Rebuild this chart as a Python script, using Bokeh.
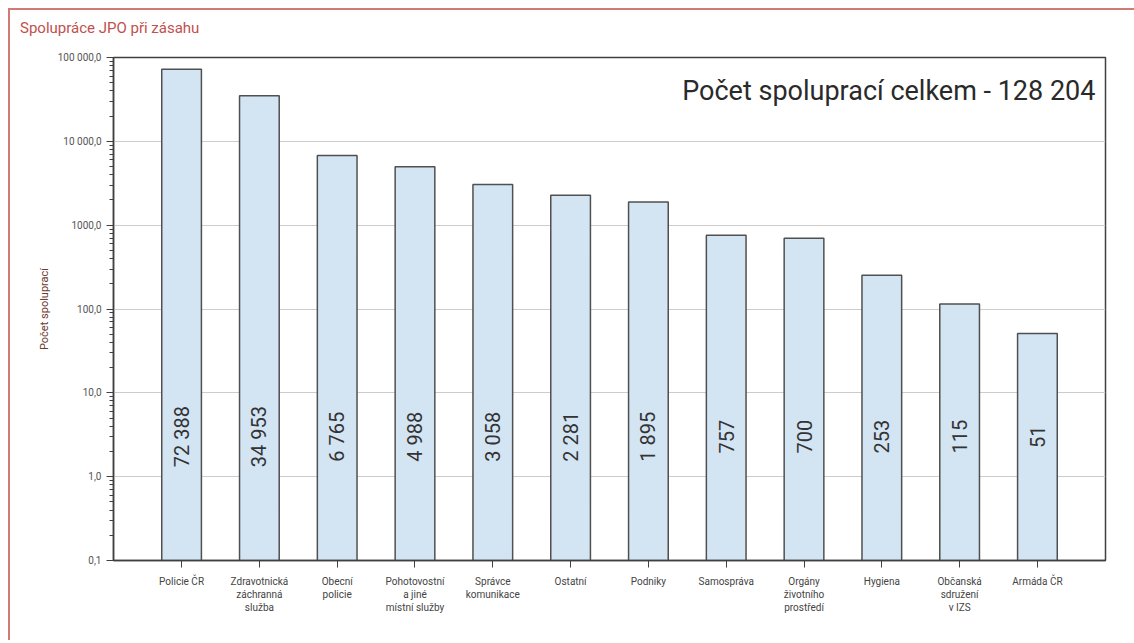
from bokeh.plotting import figure
from bokeh.models import ColumnDataSource, FixedTicker, FactorRange, Div
from bokeh.layouts import column
from bokeh.core.properties import value
from bokeh.embed import file_html
from bokeh.resources import INLINE
import math

categories = ["Policie ČR", "Zdravotnická\nzáchranná\nslužba", "Obecní\npolicie",
              "Pohotovostní\na jiné\nmístní služby", "Správce\nkomunikace", "Ostatní",
              "Podniky", "Samospráva", "Orgány\nživotního\nprostředí", "Hygiena",
              "Občanská\nsdružení\nv IZS", "Armáda ČR"]
values = [72388, 34953, 6765, 4988, 3058, 2281, 1895, 757, 700, 253, 115, 51]
value_labels = ["72 388", "34 953", "6 765", "4 988", "3 058", "2 281", "1 895",
                "757", "700", "253", "115", "51"]
y_ticks = [0.1, 1, 10, 100, 1000, 10000, 100000]
y_tick_labels = ["0,1", "1,0", "10,0", "100,0", "1000,0", "10 000,0", "100 000,0"]
total_label = "Počet spoluprací celkem - 128 204"
chart_title = "Spolupráce JPO při zásahu"
y_title = "Počet spoluprací"

FONT = "Roboto"

xr = FactorRange(factors=categories, range_padding=0.375, range_padding_units="absolute")
p = figure(x_range=xr, y_axis_type="log", y_range=(0.1, 100000),
           width=1124, height=593, output_backend="svg", toolbar_location=None,
           min_border_left=103, min_border_right=29, min_border_top=10,
           min_border_bottom=80)

src = ColumnDataSource(dict(cat=categories, val=values, lab=value_labels,
                            base=[0.1] * len(values), ly=[3.0] * len(values)))
p.vbar(x="cat", top="val", bottom="base", width=0.51, source=src,
       fill_color="#d3e4f3", line_color="#505050", line_width=1.5)

p.text(x="cat", y="ly", text="lab", source=src, angle=math.pi / 2,
       text_align="center", text_baseline="middle", text_font=value(FONT),
       text_font_size="20px", text_color="#333333")

tsrc = ColumnDataSource(dict(x=[categories[-1]], y=[40000], t=[total_label]))
p.text(x="x", y="y", text="t", source=tsrc, x_offset=58, text_align="right",
       text_baseline="middle", text_font=value(FONT), text_font_size="27px",
       text_color="#2a2a2a")

# y axis
minor = [m * 10 ** e for e in range(-1, 5) for m in range(2, 10)]
p.yaxis.ticker = FixedTicker(ticks=y_ticks, minor_ticks=minor)
p.yaxis.major_label_overrides = {t: l for t, l in zip(y_ticks, y_tick_labels)}
p.yaxis.major_label_text_font = FONT
p.yaxis.major_label_text_font_size = "10px"
p.yaxis.major_label_text_color = "#555555"
p.yaxis.axis_label = y_title
p.yaxis.axis_label_text_font = FONT
p.yaxis.axis_label_text_font_style = "normal"
p.yaxis.axis_label_text_font_size = "11px"
p.yaxis.axis_label_text_color = "#6b3a2e"
p.yaxis.axis_label_standoff = 4
p.yaxis.major_tick_out = 7
p.yaxis.major_tick_in = 0
p.yaxis.minor_tick_out = 4
p.yaxis.minor_tick_in = 0
p.yaxis.axis_line_color = "#404040"
p.yaxis.axis_line_width = 1.5
p.yaxis.major_tick_line_color = "#404040"
p.yaxis.minor_tick_line_color = "#404040"

# x axis
p.xaxis.major_label_text_font = FONT
p.xaxis.major_label_text_font_size = "10px"
p.xaxis.major_label_text_color = "#444444"
p.xaxis.major_tick_out = 7
p.xaxis.major_tick_in = 0
p.xaxis.axis_line_color = "#404040"
p.xaxis.axis_line_width = 1.5
p.xaxis.major_tick_line_color = "#404040"
p.xaxis.major_label_standoff = 8

p.xgrid.grid_line_color = None
p.ygrid.grid_line_color = "#cccccc"
p.ygrid.grid_line_width = 1

p.outline_line_color = "#404040"
p.outline_line_width = 1.5
p.outline_line_alpha = 1.0

title_div = Div(text=chart_title, width=1124, height=37, margin=0,
                styles={"font-family": FONT, "font-size": "15px", "color": "#c0504d",
                        "padding-left": "10px", "padding-top": "9px",
                        "line-height": "18px", "box-sizing": "border-box"})

layout = column(title_div, p, spacing=0)
layout.margin = (8, 0, 0, 8)
layout.styles = {"border-top": "2px solid #d07a78", "border-left": "2px solid #d07a78"}

open("out.html", "w").write(file_html(layout, INLINE))
